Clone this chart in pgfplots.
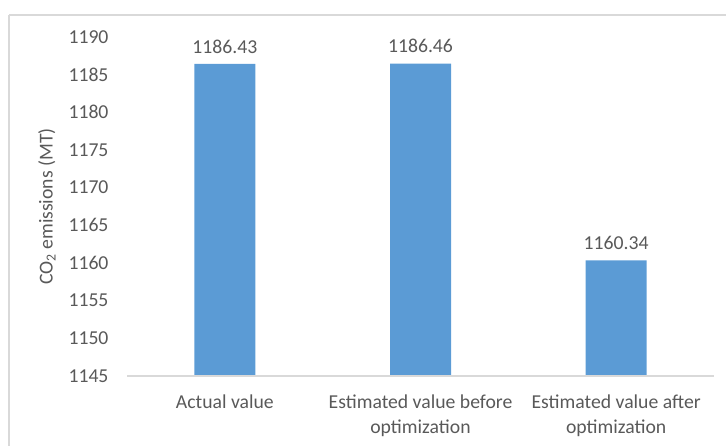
\documentclass[border=0pt]{standalone}
\usepackage{pgfplots}
\pgfplotsset{compat=1.18}
\usepackage{fontspec}
\setmainfont{Carlito}
\definecolor{barblue}{HTML}{5B9BD5}
\definecolor{txtgray}{HTML}{595959}
\definecolor{linegray}{HTML}{D9D9D9}
\begin{document}
\begin{tikzpicture}[x=1pt,y=1pt]
\draw[linegray, line width=1.5pt] (9,431) -- (740,431);
\draw[linegray, line width=1.5pt] (9,431) -- (9,-10);
\begin{axis}[
  at={(127pt,70pt)}, anchor=south west,
  scale only axis, width=587pt, height=339pt,
  xmin=-0.5, xmax=2.5, ymin=1145, ymax=1190,
  ytick={1145,1150,...,1190},
  xtick=data,
  xticklabels={Actual value, Estimated value before\\optimization, Estimated value after\\optimization},
  axis line style={draw=none},
  major tick length=0pt,
  /pgf/number format/assume math mode=true,
  /pgf/number format/1000 sep={},
  tick label style={font=\fontsize{19.7}{25}\selectfont, text=txtgray},
  yticklabel style={xshift=-15pt},
  xticklabel style={align=center, yshift=-15pt},
  ylabel={CO\textsubscript{2} emissions (MT)},
  every axis y label/.style={at={(axis description cs:-0.1363,0.5)}, rotate=90, anchor=center, font=\fontsize{19.7}{24}\selectfont, text=txtgray},
  ybar, bar width=61pt,
  nodes near coords,
  nodes near coords style={font=\fontsize{19.7}{24}\selectfont, text=txtgray, yshift=7pt, /pgf/number format/fixed, /pgf/number format/precision=2, /pgf/number format/fixed zerofill},
  clip=false,
]
\addplot[fill=barblue, draw=none] coordinates {(0,1186.43) (1,1186.46) (2,1160.34)};
\draw[linegray, line width=1.5pt] (axis cs:-0.5,1145) -- (axis cs:2.5,1145);
\end{axis}
\pgfresetboundingbox
\path[use as bounding box] (0,0) rectangle (726,446);
\end{tikzpicture}
\end{document}
